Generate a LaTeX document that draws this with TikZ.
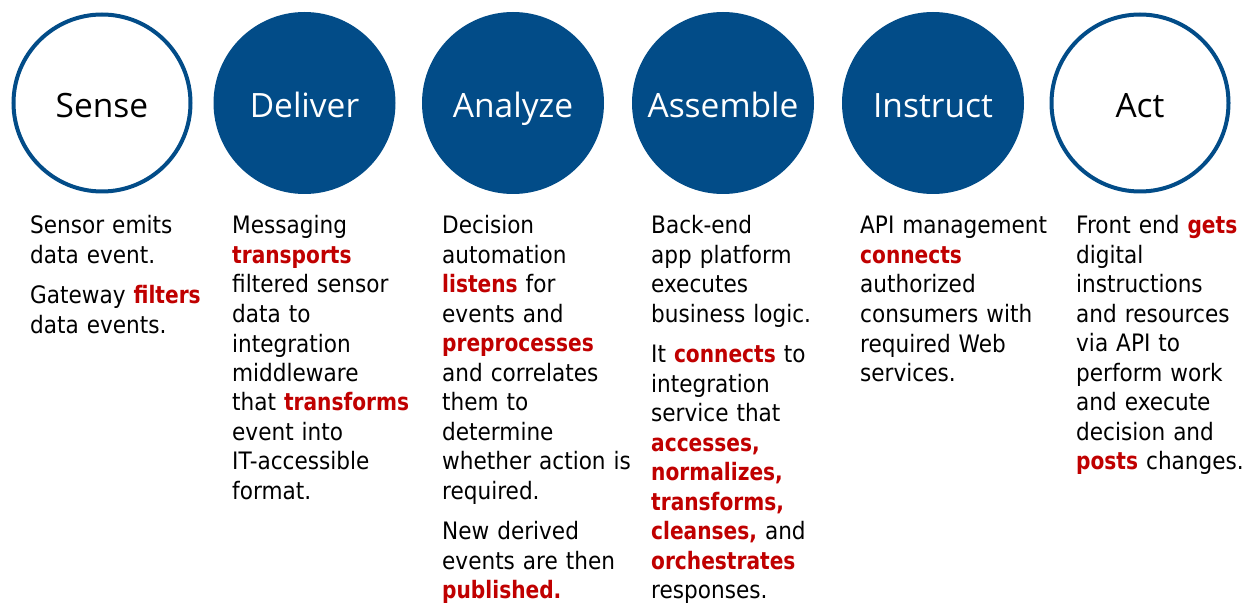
\documentclass[tikz,border=0pt]{standalone}
\usepackage{fontspec}
\setmainfont{DejaVu Sans}
\newfontfamily\bodyfont{DejaVu Sans}[FakeStretch=0.9, BoldFeatures={FakeStretch=0.84}]
\newfontfamily\stagefont{Open Sans}
\definecolor{stageblue}{RGB}{2,76,136}
\definecolor{keyred}{RGB}{192,0,0}
\newcommand{\keyword}[1]{\textcolor{keyred}{\textbf{#1}}}
\tikzset{%
  every stage/.style={
    circle,
    inner sep=0pt,
    text height=30pt,
    text depth=0pt,
    font=\stagefont\fontsize{33.5}{40}\selectfont
  },
  stage open/.style={
    every stage,
    draw=stageblue,
    line width=4pt,
    minimum size=177pt,
    text=black
  },
  stage filled/.style={
    every stage,
    fill=stageblue,
    minimum size=182pt,
    text=white
  },
  stage info/.style={
    anchor=base west,
    inner sep=0pt,
    text width=210pt,
    align=left,
    font=\bodyfont\fontsize{24}{29.5}\selectfont
  },
}

\begin{document}
\begin{tikzpicture}[x=1pt, y=1pt]
\useasboundingbox (0,0) rectangle (1251,-604);
    \foreach \x/\n/\s/\t in {102/1/open/Sense, 304.5/2/filled/Deliver, 513/3/filled/Analyze,
                             723/4/filled/Assemble, 933/5/filled/Instruct, 1140/6/open/Act}
        \node[stage \s] (stage_\n) at (\x,-103) {\t};

   \node[stage info] (info_1) at (30,-234) {Sensor emits\\ data event.\\[11pt]
      Gateway \keyword{filters}\\ data events.};
   \node[stage info] (info_2) at (232,-234) {Messaging\\ \keyword{transports}\\ filtered sensor\\
      data to\\ integration\\ middleware\\ that \keyword{transforms}\\ event into\\
      IT-accessible\\ format.};
   \node[stage info] (info_3) at (442,-234) {Decision\\ automation\\ \keyword{listens} for\\
      events and\\ \keyword{preprocesses}\\ and correlates\\ them to\\ determine\\
      whether action is\\ required.\\[11pt] New derived\\ events are then\\ \keyword{published.}};
   \node[stage info] (info_4) at (651,-234) {Back-end\\ app platform\\ executes\\
      business logic.\\[11pt] It \keyword{connects} to\\ integration\\ service that\\
      \keyword{accesses,}\\ \keyword{normalizes,}\\ \keyword{transforms,}\\
      \keyword{cleanses,} and\\ \keyword{orchestrates}\\ responses.};
   \node[stage info] (info_5) at (860,-234) {API management\\ \keyword{connects}\\ authorized\\
      consumers with\\ required Web\\ services.};
   \node[stage info] (info_6) at (1076,-234) {Front end \keyword{gets}\\ digital\\ instructions\\
      and resources\\ via API to\\ perform work\\ and execute\\ decision and\\
      \keyword{posts} changes.};
\end{tikzpicture}
\end{document}
